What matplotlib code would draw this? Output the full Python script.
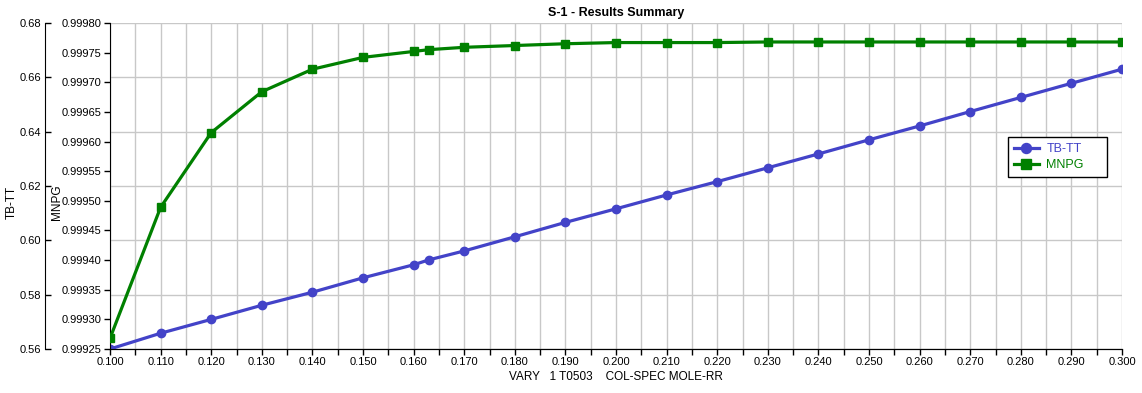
import matplotlib.pyplot as plt
from matplotlib.ticker import MultipleLocator, FormatStrFormatter

# data
x_vals = [0.100, 0.110, 0.120, 0.130, 0.140, 0.150, 0.160, 0.163, 0.170, 0.180,
          0.190, 0.200, 0.210, 0.220, 0.230, 0.240, 0.250, 0.260, 0.270, 0.280,
          0.290, 0.300]
tb_tt = [0.5600, 0.5658, 0.5709, 0.5761, 0.5809, 0.5862, 0.5910, 0.5928, 0.5961, 0.6013,
         0.6066, 0.6116, 0.6167, 0.6216, 0.6267, 0.6318, 0.6370, 0.6421, 0.6474, 0.6526,
         0.6578, 0.6630]
mnpg = [0.999268, 0.999489, 0.999615, 0.999684, 0.999722, 0.999742, 0.999752, 0.999755,
        0.999759, 0.999762, 0.999765, 0.999767, 0.999767, 0.999767, 0.999768, 0.999768,
        0.999768, 0.999768, 0.999768, 0.999768, 0.999768, 0.999768]

plt.rcParams['font.family'] = ['Liberation Sans', 'DejaVu Sans']
plt.rcParams['font.size'] = 8.5

blue = '#4343C8'
green = '#008000'

fig = plt.figure(figsize=(11.42, 3.93), dpi=100)
ax = fig.add_axes([110 / 1142, 1 - 349 / 393, 1012 / 1142, 326 / 393])

# TB-TT axis (outer left)
ax.plot(x_vals, tb_tt, color=blue, lw=2.3, marker='o', ms=6, label='TB-TT', zorder=3)
ax.set_ylim(0.56, 0.68)
ax.set_xlim(0.100, 0.300)
ax.yaxis.set_major_locator(MultipleLocator(0.02))
ax.yaxis.set_major_formatter(FormatStrFormatter('%.2f'))
ax.xaxis.set_major_locator(MultipleLocator(0.01))
ax.xaxis.set_minor_locator(MultipleLocator(0.005))
ax.xaxis.set_major_formatter(FormatStrFormatter('%.3f'))
ax.grid(True, which='both', axis='x', color='#c8c8c8', lw=1)
ax.grid(True, which='major', axis='y', color='#c8c8c8', lw=1)
ax.set_axisbelow(True)
ax.spines['left'].set_position(('outward', 65 * 0.72))
ax.spines['top'].set_visible(False)
ax.spines['right'].set_visible(False)
ax.tick_params(axis='x', which='both', direction='out', length=4, width=1,
               pad=2, labelsize=8)
ax.tick_params(axis='y', direction='in', length=4, width=1, pad=2.5, labelsize=8)
ax.set_ylabel('TB-TT')
ax.yaxis.set_label_coords(-0.091, 0.45)
ax.set_xlabel('VARY   1 T0503    COL-SPEC MOLE-RR', labelpad=3)
ax.set_title('S-1 - Results Summary', fontweight='bold', fontsize=9, pad=5)

# MNPG axis (inner left)
ax2 = ax.twinx()
ax2.plot(x_vals, mnpg, color=green, lw=2.3, marker='s', ms=6, label='MNPG', zorder=3)
ax2.set_ylim(0.99925, 0.99980)
ax2.yaxis.set_major_locator(MultipleLocator(0.00005))
ax2.yaxis.set_major_formatter(FormatStrFormatter('%.5f'))
ax2.yaxis.set_ticks_position('left')
ax2.yaxis.set_label_position('left')
ax2.spines['left'].set_visible(True)
ax2.spines['left'].set_position(('outward', 0))
ax2.spines['right'].set_visible(False)
ax2.spines['top'].set_visible(False)
ax2.tick_params(axis='y', direction='out', length=4, width=1, pad=2, labelsize=8)
ax2.set_ylabel('MNPG')
ax2.yaxis.set_label_coords(-0.0464, 0.45)

h1, l1 = ax.get_legend_handles_labels()
h2, l2 = ax2.get_legend_handles_labels()
leg = ax2.legend(h1 + h2, l1 + l2, loc='upper left',
                 bbox_to_anchor=(0.887, 0.53, 0.098, 0.12), mode='expand',
                 fancybox=False, edgecolor='black', framealpha=1,
                 labelcolor='linecolor', handlelength=2.0, handletextpad=0.6,
                 borderpad=0.5, borderaxespad=0, labelspacing=0.3,
                 markerscale=1.2, fontsize=9)
leg.get_frame().set_linewidth(1)

fig.savefig('out.png', dpi=100)
